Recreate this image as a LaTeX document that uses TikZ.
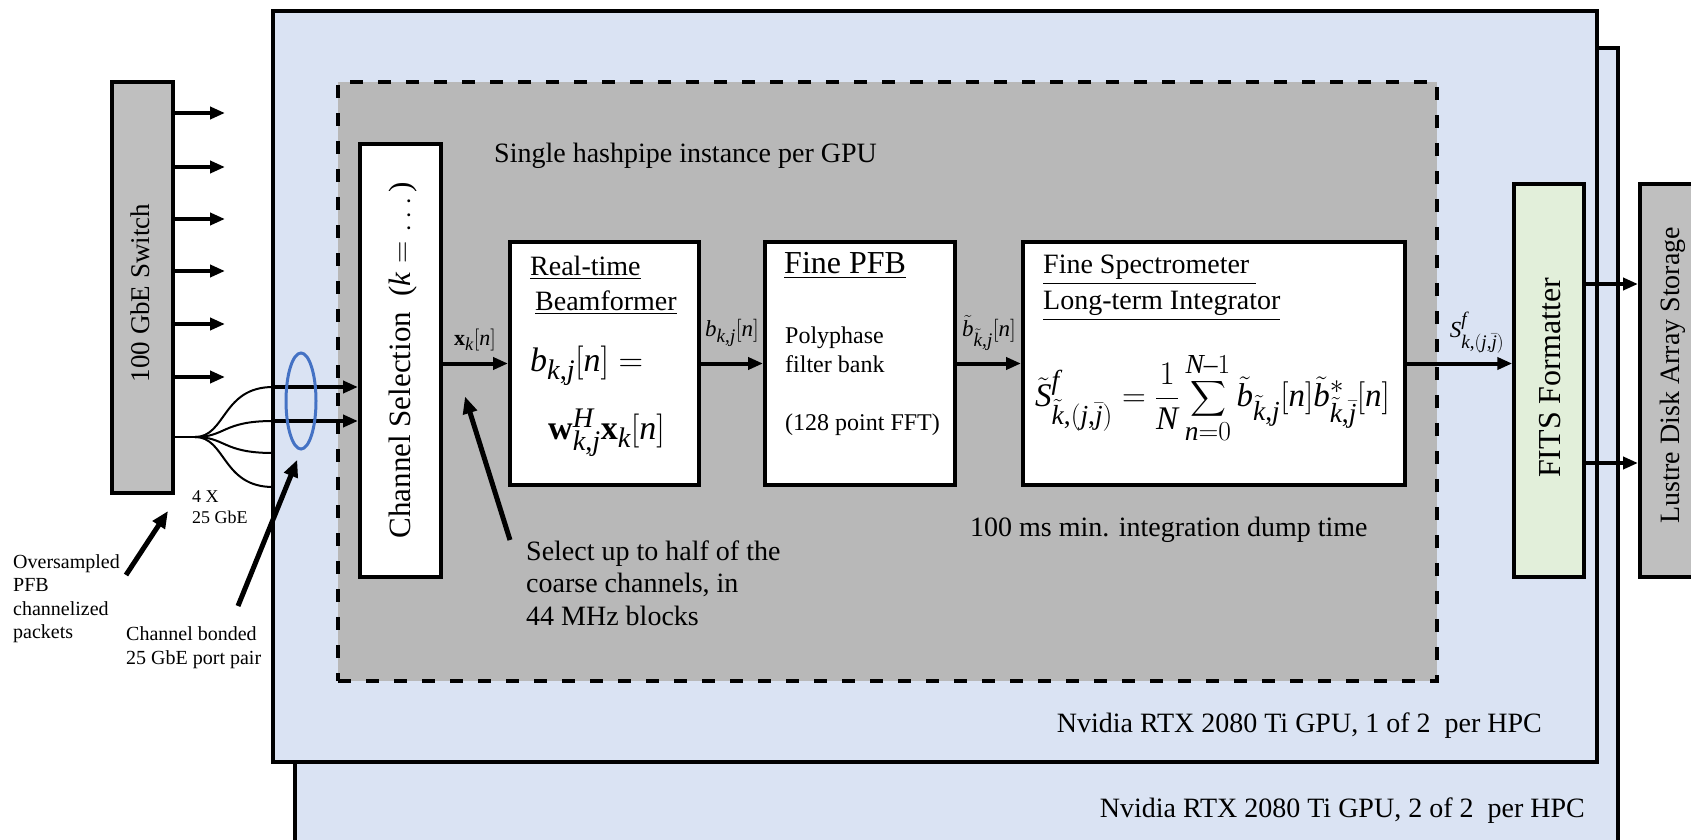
\RequirePackage{fix-cm}
\documentclass[tikz,border=0pt]{standalone}
\usepackage{amsmath}
\usepackage{exscale}
\usepackage{fontspec}
\setmainfont{Liberation Serif}
\usepackage[italic]{mathastext}
\usetikzlibrary{arrows.meta,shapes.geometric,calc}

\definecolor{gpublue}{HTML}{DAE3F3}
\definecolor{pipegray}{HTML}{B8B8B8}
\definecolor{devgray}{HTML}{BFBFBF}
\definecolor{fitsgreen}{HTML}{E2EFDA}
\definecolor{bondblue}{HTML}{4472C4}

\newcommand{\fs}[2]{\fontsize{#1}{#2}\selectfont}

\begin{document}
\begin{tikzpicture}[x=1pt,y=-1pt,line join=miter,
  box/.style={draw,line width=4pt,rectangle,inner sep=0pt},
  arr/.style={line width=4pt,-{Triangle[length=15pt,width=12pt]}},
  ptr/.style={line width=5pt,-{Triangle[length=17pt,width=14pt]}},
  fan/.style={line width=2pt},
  lbl/.style={inner sep=0pt,font=\fs{28}{33}},
  small/.style={inner sep=0pt,font=\fs{20}{23.5},align=left},
  sig/.style={inner sep=0pt,font=\fs{23}{26}}]
\useasboundingbox (0,0) rectangle (1691,840);

% GPU boards (second one behind the first)
\node[box,fill=gpublue,minimum width=1323pt,minimum height=852pt] (gpuB) at (956.5,474) {};
\node[lbl,anchor=east] (gpuBlbl) at (1585,811) {Nvidia RTX 2080 Ti GPU, 2 of 2\ \ per HPC};
\node[box,fill=gpublue,minimum width=1324pt,minimum height=751pt] (gpuA) at (935,386.5) {};
\node[lbl,anchor=east] (gpuAlbl) at (1542,726) {Nvidia RTX 2080 Ti GPU, 1 of 2\ \ per HPC};

% hashpipe instance
\node[draw,fill=pipegray,line width=4pt,dash pattern=on 13pt off 15pt,inner sep=0pt,
      minimum width=1099pt,minimum height=599pt] (pipe) at (887.5,381.5) {};
\node[lbl,anchor=west] (pipelbl) at (494,156) {Single hashpipe instance per GPU};

% network switch
\node[box,fill=devgray,minimum width=61pt,minimum height=411pt] (switch) at (142.5,287.5) {};
\node[inner sep=0pt,rotate=90,font=\fs{27}{30}] (switchlbl) at (140,293) {100 GbE Switch};
\foreach \y [count=\i] in {113,167,219,271,324,377} {
  \coordinate (out\i) at (225,\y);
  \draw[arr] (switch.east |- out\i) -- (out\i);
}

% processing blocks
\node[box,fill=white,minimum width=81pt,minimum height=433pt] (chsel) at (400.5,360.5) {};
\node[inner sep=0pt,rotate=90,font=\fs{31}{34}] (chsellbl) at (403,360) {Channel Selection\ \ ($k=\ldots\,$)};

\node[box,fill=white,minimum width=189pt,minimum height=243pt] (bf) at (604.5,363.5) {};
\node[lbl,anchor=west,align=left,font=\fs{28}{35}] (bftitle) at (530,285.5)
  {\underline{Real-time}\\\hspace*{5pt}\underline{Beamformer}};
\node[inner sep=0pt,anchor=base west,font=\fs{34}{40}] (bfeq1) at (530,371.5) {$b_{k,j}[n] =$};
\node[inner sep=0pt,anchor=base west,font=\fs{34}{40}] (bfeq2) at (548,439.5) {$\mathbf{w}^{H}_{k,j}\mathbf{x}_{k}[n]$};

\node[box,fill=white,minimum width=190pt,minimum height=243pt] (pfb) at (860,363.5) {};
\node[inner sep=0pt,anchor=west,font=\fs{32}{36}] (pfbtitle) at (784,266) {\underline{Fine PFB}};
\node[inner sep=0pt,anchor=west,align=left,font=\fs{24}{29}] (pfbtxt) at (785,381.5)
  {Polyphase\\filter bank\\[29pt](128 point FFT)};

\node[box,fill=white,minimum width=382pt,minimum height=243pt] (integ) at (1214,363.5) {};
\node[lbl,anchor=west,align=left,font=\fs{28}{36}] (integtitle) at (1043,288)
  {\underline{Fine Spectrometer\ }\\\underline{Long-term Integrator}};
\node[inner sep=0pt,anchor=west,font=\fs{33}{38}] (integeq) at (1035,398)
  {$\displaystyle \tilde{S}^{f}_{\tilde{k},(j,\bar{j})} = \frac{1}{N}\sum_{n=0}^{N-1}\tilde{b}_{\tilde{k},j}[n]\tilde{b}^{*}_{\tilde{k},\bar{j}}[n]$};
\node[lbl,anchor=west] (dump) at (970,530) {100 ms min. integration dump time};

\node[box,line width=3.5pt,fill=fitsgreen,minimum width=70pt,minimum height=393pt] (fits) at (1549,380.5) {};
\node[inner sep=0pt,rotate=90,font=\fs{32}{36}] (fitslbl) at (1550,378) {FITS Formatter};
\node[box,fill=devgray,minimum width=62pt,minimum height=393pt] (lustre) at (1671,380.5) {};
\node[inner sep=0pt,rotate=90,font=\fs{28}{32}] (lustrelbl) at (1673,375) {Lustre Disk Array Storage};

% bonded 25 GbE ports into the channel selector
\coordinate (fanpt) at (195,437);
\draw[fan] (switch.east |- fanpt) -- (fanpt);
\foreach \y [count=\i] in {387,421,453,487} {
  \coordinate (port\i) at (273,\y);
  \draw[fan] (fanpt) .. controls (226,437) and (222,\y) .. (port\i);
}
\draw[arr] (port1) -- (port1 -| chsel.west);
\draw[arr] (port2) -- (port2 -| chsel.west);
\node[ellipse,draw=bondblue,line width=3pt,inner sep=0pt,minimum width=30pt,minimum height=96pt] (bond) at (301,401) {};

% signal path
\draw[arr] (chsel.east |- bf.west) -- (bf.west);
\node[sig,font=\fs{22}{24}] (xlbl) at (475,340) {$\mathbf{x}_k[n]$};
\draw[arr] (bf.east) -- (pfb.west);
\node[sig] (blbl) at (732,333) {$b_{k,j}[n]$};
\draw[arr] (pfb.east) -- (integ.west);
\node[sig] (btlbl) at (989,333) {$\tilde{b}_{\tilde{k},j}[n]$};
\draw[arr] (integ.east) -- (integ.east -| fits.west);
\node[sig] (slbl) at (1477,333) {$S^{f}_{k,(j,\bar{j})}$};
\path (fits.east) ++(0,-96.5) coordinate (fo1);
\path (fits.east) ++(0,82.5) coordinate (fo2);
\draw[arr] (fo1) -- (fo1 -| lustre.west);
\draw[arr] (fo2) -- (fo2 -| lustre.west);

% annotations
\node[small,anchor=west,font=\fs{18}{21}] (portslbl) at (192,507.5) {4 X\\25 GbE};
\node[small,anchor=west] (ovstxt) at (13,598.5) {Oversampled\\PFB\\channelized\\packets};
\coordinate (ovstail) at (126,575);
\draw[ptr] (ovstail) -- ($(switch.south east)+(-7,16)$);
\node[small,anchor=west] (bondtxt) at (126,647.5) {Channel bonded\\25 GbE port pair};
\coordinate (bondtail) at (238,606);
\draw[ptr,shorten >=10pt] (bondtail) -- (bond.south);
\node[lbl,anchor=west,align=left,font=\fs{28}{32.5}] (seltxt) at (526,583)
  {Select up to half of the\\coarse channels, in\\44 MHz blocks};
\coordinate (seltail) at (510,540);
\draw[ptr] (seltail) -- ($(chsel.east)+(22,36)$);
\end{tikzpicture}
\end{document}
